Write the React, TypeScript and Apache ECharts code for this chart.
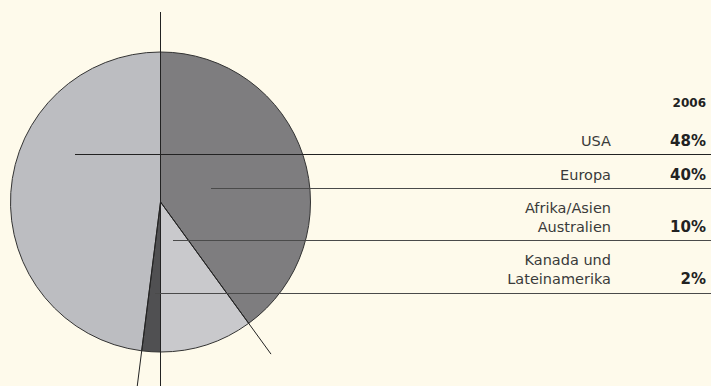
import React, { useEffect, useRef } from "react";
import * as echarts from "echarts";

const categories = ["Europa", "Afrika/Asien\nAustralien", "Kanada und\nLateinamerika", "USA"];
const shares = [40, 10, 2, 48];
const sliceColors = ["#7e7d7f", "#c9c9cc", "#505052", "#bcbdc1"];
const yearLabel = "2006";
// table order (top to bottom) as index into categories
const tableOrder = [3, 0, 1, 2];

// layout
const W = 711;
const H = 386;
const CX = 160.5;
const CY = 202;
const R = 150;
const rowY = [140.5, 174.5, 217.5, 269.5];
const ruleY = [154.5, 188.5, 240.5, 293.5];
const ruleStartX = [75, 211, 173, 155];
const ruleColors = ["#222222", "#4a4a4a", "#4a4a4a", "#4a4a4a"];
const labelRight = 611;
const valueRight = 706;

export default function App() {
  const ref = useRef<HTMLDivElement>(null);
  useEffect(() => {
    document.body.style.margin = "0";
    const chart = echarts.init(ref.current!, null, { renderer: "svg" });
    const total = shares.reduce((a, b) => a + b, 0);
    const graphics: any[] = [];
    // slice boundary lines extended beyond the pie
    let cum = 0;
    const bounds: number[] = [0];
    shares.forEach((v) => {
      cum += v;
      bounds.push(cum / total);
    });
    const ext = 190;
    const drawn = new Set<string>();
    [0, 2, 3].forEach((bi) => {
      const f = bounds[bi];
      const a = 2 * Math.PI * f;
      const dx = Math.sin(a);
      const dy = -Math.cos(a);
      const key = f.toFixed(4);
      if (drawn.has(key)) return;
      drawn.add(key);
      graphics.push({
        type: "line",
        z: 100,
        silent: true,
        shape: { x1: CX, y1: CY, x2: CX + dx * ext, y2: CY + dy * ext },
        style: { stroke: "#222", lineWidth: 1 },
      });
    });
    // extension of the 0 boundary downward (180deg) is bound index 2 (50%)
    graphics.push({
      type: "line",
      z: 100,
      silent: true,
      shape: { x1: CX, y1: CY, x2: CX + Math.sin(2 * Math.PI * bounds[4]) * ext, y2: CY - Math.cos(2 * Math.PI * bounds[4]) * ext },
      style: { stroke: "#222", lineWidth: 1 },
    });
    graphics.push({
      type: "line",
      z: 100,
      silent: true,
      shape: { x1: CX, y1: CY, x2: CX + Math.sin(2 * Math.PI * bounds[1]) * 188, y2: CY - Math.cos(2 * Math.PI * bounds[1]) * 188 },
      style: { stroke: "#222", lineWidth: 1 },
    });
    // header
    graphics.push({
      type: "text",
      z: 100,
      silent: true,
      x: valueRight,
      y: 103,
      style: {
        text: yearLabel,
        fill: "#222",
        fontFamily: "DejaVu Sans",
        fontWeight: "bold",
        fontSize: 12,
        textAlign: "right",
        textVerticalAlign: "middle",
      },
    });
    tableOrder.forEach((ci, row) => {
      graphics.push({
        type: "line",
        z: 100,
        silent: true,
        shape: { x1: ruleStartX[row], y1: ruleY[row], x2: W, y2: ruleY[row] },
        style: { stroke: ruleColors[row], lineWidth: 1 },
      });
      graphics.push({
        type: "text",
        z: 100,
        silent: true,
        x: labelRight,
        y: rowY[row],
        style: {
          text: categories[ci],
          fill: "#3a3a3a",
          fontFamily: "DejaVu Sans",
          fontSize: 14.5,
          lineHeight: 19,
          textAlign: "right",
          textVerticalAlign: "middle",
        },
      });
      const multi = categories[ci].includes("\n");
      graphics.push({
        type: "text",
        z: 100,
        silent: true,
        x: valueRight,
        y: multi ? rowY[row] + 9.5 : rowY[row],
        style: {
          text: shares[ci] + "%",
          fill: "#222",
          fontFamily: "DejaVu Sans",
          fontWeight: "bold",
          fontSize: 15,
          textAlign: "right",
          textVerticalAlign: "middle",
        },
      });
    });

    chart.setOption({
      animation: false,
      backgroundColor: "#fefaeb",
      series: [
        {
          type: "pie",
          silent: true,
          center: [CX, CY],
          radius: [0, R],
          startAngle: 90,
          clockwise: true,
          label: { show: false },
          labelLine: { show: false },
          emphasis: { disabled: true },
          itemStyle: { borderColor: "#333", borderWidth: 1 },
          data: categories.map((c, i) => ({
            name: c,
            value: shares[i],
            itemStyle: { color: sliceColors[i] },
          })),
        },
      ],
      graphic: graphics,
    });
    return () => chart.dispose();
  }, []);
  return <div ref={ref} style={{ width: W, height: H }} />;
}
